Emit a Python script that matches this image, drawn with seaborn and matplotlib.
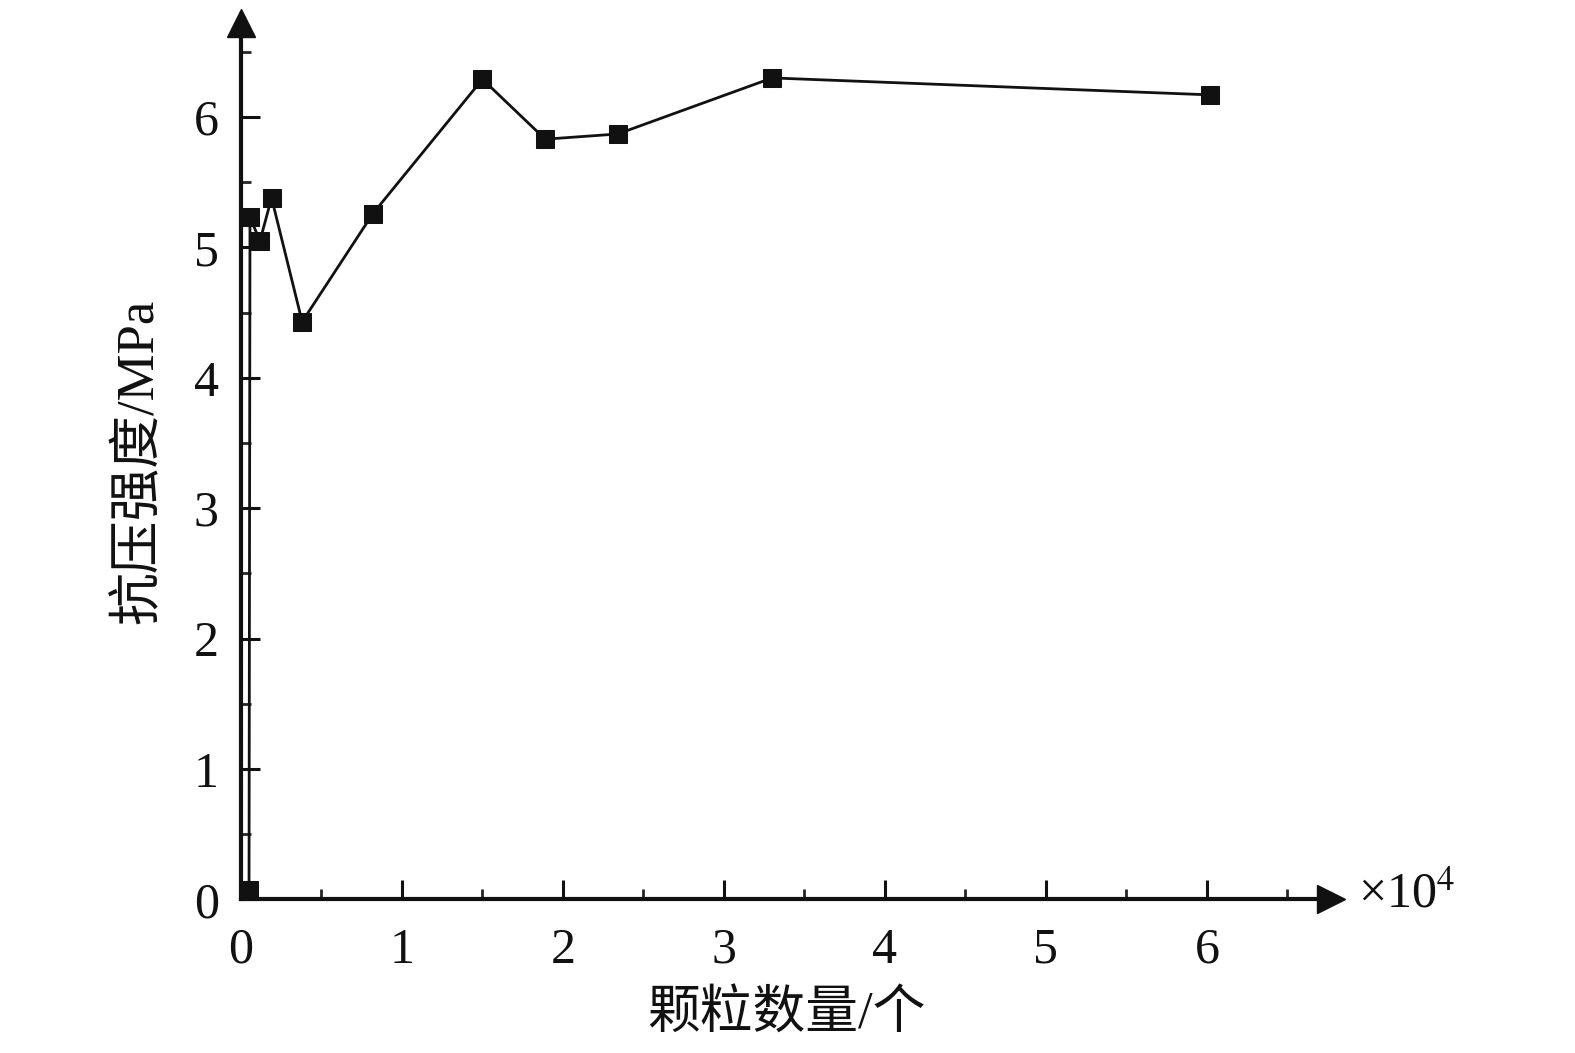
import matplotlib
matplotlib.use("Agg")
import matplotlib.pyplot as plt
import seaborn as sns
import pandas as pd
from matplotlib.ticker import MultipleLocator

# particle count (x10^4) and compressive strength (MPa)
particles = [0.05, 0.056, 0.118, 0.19, 0.38, 0.82, 1.50, 1.89, 2.34, 3.30, 6.02]
strength = [0.07, 5.23, 5.05, 5.38, 4.43, 5.26, 6.29, 5.83, 5.87, 6.30, 6.17]
x_ticks = [0, 1, 2, 3, 4, 5, 6]
y_ticks = [0, 1, 2, 3, 4, 5, 6]

df = pd.DataFrame({"particles": particles, "strength": strength})

sns.set_style("ticks")
plt.rcParams['font.family'] = ['Liberation Serif', 'Noto Sans CJK SC', 'DejaVu Sans']
plt.rcParams['mathtext.fontset'] = 'stix'

fig = plt.figure(figsize=(15.75, 10.53), dpi=100)
ax = fig.add_axes([0.1530, 0.146, 0.692, 0.832])

sns.lineplot(data=df, x="particles", y="strength", sort=False, ax=ax,
             color="#111111", linewidth=2.0, marker="s", markersize=13,
             markeredgecolor="#111111", markerfacecolor="#111111", clip_on=False,
             zorder=3)

ax.set_xlim(0, 6.77)
ax.set_ylim(0, 6.72)
ax.set_xticks(x_ticks)
ax.set_yticks(y_ticks)
ax.xaxis.set_minor_locator(MultipleLocator(0.5))
ax.yaxis.set_minor_locator(MultipleLocator(0.5))
ax.tick_params(which="major", direction="in", length=14, width=2.2,
               labelsize=36, colors="#111111")
ax.tick_params(which="minor", direction="in", length=7, width=2.0)
ax.tick_params(axis="x", pad=20)
ax.tick_params(axis="y", pad=16)

for s in ["top", "right"]:
    ax.spines[s].set_visible(False)
for s in ["left", "bottom"]:
    ax.spines[s].set_linewidth(3)
    ax.spines[s].set_color("#111111")

# arrow heads at the ends of the axes
ax.plot(1, 0, ">", color="#111111", markersize=20, transform=ax.get_yaxis_transform(),
        clip_on=False)
ax.plot(0, 1, "^", color="#111111", markersize=20, transform=ax.get_xaxis_transform(),
        clip_on=False)

ax.set_xlabel("颗粒数量/个", fontsize=38, labelpad=12, color="#111111")
ax.set_ylabel("抗压强度/MPa", fontsize=38, labelpad=22, color="#111111")
ax.text(1.025, 0.005, r"×10$^{4}$", transform=ax.transAxes, fontsize=36,
        va="center", ha="left", color="#111111")

fig.savefig("out.png", dpi=100)
